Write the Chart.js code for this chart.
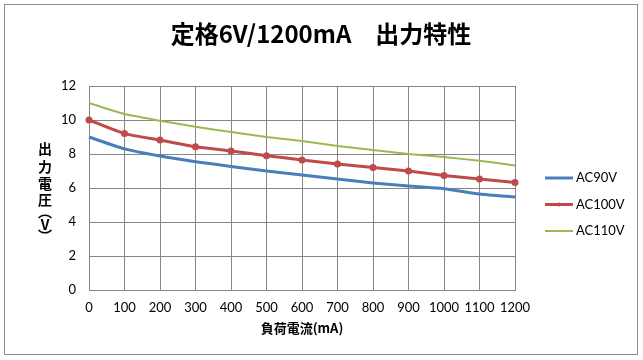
<!DOCTYPE html>
<html>
<head>
<meta charset="utf-8">
<script src="https://cdn.jsdelivr.net/npm/chart.js@4"></script>
<style>
  html, body { margin: 0; padding: 0; background: #fff; }
  #wrap { width: 643px; height: 360px; }
</style>
</head>
<body>
<div id="wrap"><canvas id="grafico" width="643" height="360"></canvas></div>
<script>
const corrente = [0, 100, 200, 300, 400, 500, 600, 700, 800, 900, 1000, 1100, 1200]
const ac90 = [9.0, 8.3, 7.88, 7.55, 7.27, 7.0, 6.76, 6.53, 6.3, 6.12, 5.96, 5.65, 5.47]
const ac100 = [10.0, 9.2, 8.82, 8.43, 8.18, 7.9, 7.65, 7.41, 7.2, 7.0, 6.74, 6.53, 6.33]
const ac110 = [11.0, 10.35, 9.96, 9.6, 9.3, 9.0, 8.76, 8.47, 8.24, 8.0, 7.82, 7.6, 7.33]
const nomesSeries = ['AC90V', 'AC100V', 'AC110V']
const titulo = '定格6V/1200mA　出力特性'
const tituloX = '負荷電流(mA)'
const tituloY = ['出', '力', '電', '圧', '︵', 'V', '︶']

const fonteCJK = '"Noto Sans CJK JP", "Noto Sans", sans-serif'
const fonteNum = 'Lato, "Open Sans", sans-serif'

// textos extras: moldura, titulo do eixo Y em pé, titulo X e legenda
const textosExtras = {
    id: 'textosExtras',
    beforeDraw(chart) {
        const ctx = chart.ctx
        ctx.save()
        ctx.fillStyle = '#fff'
        ctx.fillRect(0, 0, chart.width, chart.height)
        ctx.strokeStyle = '#8c8c8c'
        ctx.lineWidth = 1
        ctx.strokeRect(4.5, 4.5, 633, 350)
        ctx.restore()
    },
    afterDraw(chart) {
        const ctx = chart.ctx
        const area = chart.chartArea
        ctx.save()
        ctx.fillStyle = '#000'
        ctx.textAlign = 'center'
        ctx.textBaseline = 'middle'

        ctx.font = 'bold 24px ' + fonteCJK
        ctx.fillText(titulo, 321, 34)

        ctx.font = 'bold 13px ' + fonteCJK
        ctx.fillText(tituloX, (area.left + area.right) / 2, 328)

        ctx.font = 'bold 14px ' + fonteCJK
        const posY = [149, 167, 184, 200, 212, 225, 236]
        tituloY.forEach((c, i) => ctx.fillText(c, 45, posY[i]))

        // legenda
        ctx.textAlign = 'left'
        ctx.font = '13px ' + fonteNum
        chart.data.datasets.forEach((ds, i) => {
            const y = 178 + i * 26.5
            ctx.strokeStyle = ds.borderColor
            ctx.lineWidth = ds.borderWidth
            ctx.beginPath()
            ctx.moveTo(545, y)
            ctx.lineTo(573, y)
            ctx.stroke()
            if (ds.pointRadius > 0) {
                ctx.fillStyle = ds.borderColor
                ctx.beginPath()
                ctx.arc(559, y, 2, 0, Math.PI * 2)
                ctx.fill()
            }
            ctx.fillStyle = '#000'
            ctx.fillText(ds.label, 576, y)
        })
        ctx.restore()
    }
}

const data = {
    labels: corrente,
    datasets: [{
        label: nomesSeries[0],
        data: ac90,
        borderColor: '#4a7ebb',
        backgroundColor: '#4a7ebb',
        borderWidth: 3,
        pointRadius: 0,
        tension: 0.2
    }, {
        label: nomesSeries[1],
        data: ac100,
        borderColor: '#be4b48',
        backgroundColor: '#be4b48',
        borderWidth: 3,
        pointRadius: 2,
        pointHoverRadius: 2,
        tension: 0.2
    }, {
        label: nomesSeries[2],
        data: ac110,
        borderColor: '#98b954',
        backgroundColor: '#98b954',
        borderWidth: 2,
        pointRadius: 0,
        tension: 0.2
    }]
}

window.grafico = new Chart(document.getElementById('grafico'), {
    type: 'line',
    data: data,
    options: {
        responsive: false,
        animation: false,
        layout: {
            padding: { left: 0, top: 86, right: 128, bottom: 0 }
        },
        plugins: {
            legend: { display: false },
            title: { display: false },
            tooltip: { enabled: false }
        },
        scales: {
            x: {
                offset: false,
                afterFit: function (scale) { scale.height = 70 },
                grid: {
                    color: '#868686',
                    drawTicks: false
                },
                border: { color: '#868686' },
                ticks: {
                    padding: 10,
                    color: '#000',
                    maxRotation: 0,
                    autoSkip: false,
                    font: { family: fonteNum, size: 13 }
                }
            },
            y: {
                min: 0,
                max: 12,
                afterFit: function (scale) { scale.width = 89 },
                grid: {
                    color: '#868686',
                    drawTicks: false
                },
                border: { color: '#868686' },
                ticks: {
                    stepSize: 2,
                    padding: 13,
                    color: '#000',
                    font: { family: fonteNum, size: 13 }
                }
            }
        }
    },
    plugins: [textosExtras]
})
</script>
</body>
</html>
